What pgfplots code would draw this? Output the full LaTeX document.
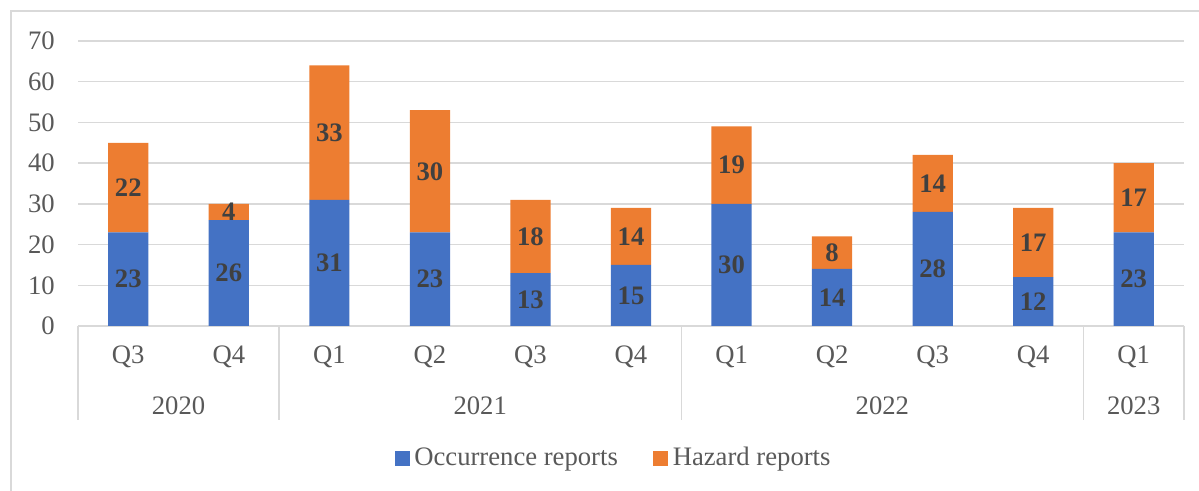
\documentclass[border=0pt]{standalone}
\usepackage{pgfplots}
\pgfplotsset{compat=1.18}
\usepackage{pgfplotstable}
\usepackage{fontspec}
\setmainfont{Liberation Serif}
\definecolor{occ}{HTML}{4472C4}
\definecolor{haz}{HTML}{ED7D31}
\definecolor{txt}{HTML}{595959}
\definecolor{lbl}{HTML}{404040}
\definecolor{grd}{HTML}{D9D9D9}
\pgfplotstableread{
x occ haz
0 23 22
1 26 4
2 31 33
3 23 30
4 13 18
5 15 14
6 30 19
7 14 8
8 28 14
9 12 17
10 23 17
}\datatable
\newcommand{\tfont}{\fontsize{12}{14}\selectfont}
\begin{document}
\begin{tikzpicture}[x=1pt,y=1pt]
\useasboundingbox (-35.1,-74.25) rectangle (504.45,146.7);
\draw[grd, line width=0.6pt] (-30.15,-74.25) -- (-30.15,141.75) -- (504.45,141.75);
\begin{axis}[
  at={(0pt,0pt)}, anchor=south west,
  scale only axis, width=497.7pt, height=128.25pt,
  xmin=-0.5, xmax=10.5, ymin=0, ymax=70,
  ybar stacked, bar width=0.4,
  clip=false,
  xtick=data, xticklabels={Q3,Q4,Q1,Q2,Q3,Q4,Q1,Q2,Q3,Q4,Q1},
  ytick={0,10,...,70},
  axis line style={draw=none},
  major tick length=0pt,
  tick style={draw=none},
  ymajorgrids, grid style={grd, line width=0.6pt},
  /pgf/number format/assume math mode=true,
  tick label style={font=\tfont, text=txt},
  yticklabel style={anchor=east, inner sep=0pt, xshift=-10.3pt},
  xticklabel style={anchor=center, inner sep=0pt, yshift=-14pt},
  legend style={at={(axis description cs:0.4855,-0.463)}, anchor=center,
    draw=none, fill=none, legend columns=2, font=\tfont, text=txt,
    /tikz/every even column/.append style={column sep=14pt}},
  legend cell align=left,
  legend entries={Occurrence reports, Hazard reports},
  every node near coord/.append style={anchor=center,
    font=\bfseries\tfont, text=lbl},
]
\addlegendimage{legend image code/.code={\fill[occ] (0pt,-3.15pt) rectangle (6.3pt,3.15pt);}}
\addlegendimage{legend image code/.code={\fill[haz] (0pt,-3.15pt) rectangle (6.3pt,3.15pt);}}
\addplot[fill=occ, draw=none, point meta=explicit symbolic,
  nodes near coords={\pgfplotspointmeta}]
  table[x=x, y=occ, meta=occ]{\datatable};
\addplot[fill=haz, draw=none, point meta=explicit symbolic,
  nodes near coords={\pgfplotspointmeta}]
  table[x=x, y=haz, meta=haz]{\datatable};
\draw[grd, line width=0.6pt] (axis cs:-0.5,0) -- (axis cs:10.5,0);
\pgfplotsinvokeforeach{-0.5,1.5,5.5,9.5,10.5}{
  \draw[grd, line width=0.6pt] (axis cs:#1,0) -- ++(0pt,-42.3pt);
}
\node[font=\tfont, text=txt] at ([yshift=-36pt]axis cs:0.5,0) {2020};
\node[font=\tfont, text=txt] at ([yshift=-36pt]axis cs:3.5,0) {2021};
\node[font=\tfont, text=txt] at ([yshift=-36pt]axis cs:7.5,0) {2022};
\node[font=\tfont, text=txt] at ([yshift=-36pt]axis cs:10,0) {2023};
\end{axis}
\end{tikzpicture}
\end{document}
